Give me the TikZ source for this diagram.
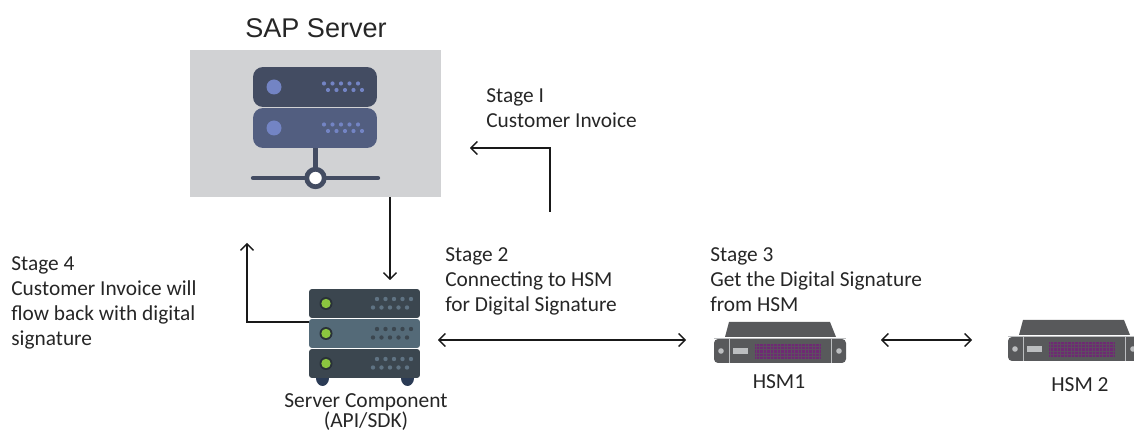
\documentclass[tikz,border=0pt]{standalone}
\usepackage{fontspec}
\usetikzlibrary{arrows.meta}
\setmainfont{Carlito}
\newfontfamily\headfont{Liberation Sans}
\definecolor{sapgrey}{HTML}{D1D2D4}
\definecolor{sapdark}{HTML}{434C62}
\definecolor{sapmid}{HTML}{525E80}
\definecolor{sapdot}{HTML}{7384C4}
\definecolor{rackdark}{HTML}{3B464F}
\definecolor{rackmid}{HTML}{546A78}
\definecolor{rackfoot}{HTML}{2B3B55}
\definecolor{rackled}{HTML}{8CC63F}
\definecolor{rackdot}{HTML}{5F7383}
\definecolor{hsmgrey}{HTML}{58595B}
\definecolor{hsmlight}{HTML}{BCBEC0}
\definecolor{hsmpurple}{HTML}{6E2A73}
\tikzset{
  x=0.02cm, y=-0.02cm,
  >={Straight Barb[length=3.6pt,width=7.4pt,line width=0.8pt]},
  label/.style={font=\fontsize{12.15pt}{14.2pt}\selectfont, align=left, anchor=north west, inner sep=0pt, text=black!85},
  caption/.style={font=\fontsize{12.2pt}{11.6pt}\selectfont, align=center, inner sep=0pt, text=black!85},
  link/.style={draw=black!90, line width=0.8pt, ->},
  sapunit/.style={rounded corners=0.2cm, minimum width=2.48cm, minimum height=0.8cm, inner sep=0pt, draw=none},
  rackrow/.style={rounded corners=0.06cm, minimum width=2.22cm, minimum height=0.58cm, inner sep=0pt},
  pics/hsmunit/.style={code={
    \fill[hsmgrey] (11,-2) -- (15,-17) -- (116,-17) -- (122,-2) -- cycle;
    \fill[hsmgrey, rounded corners=0.08cm] (0,0) rectangle (132,24);
    \draw[hsmlight, line width=0.5pt] (0,-1) -- (132,-1) (15,0) -- (15,24) (117,0) -- (117,24);
    \fill[hsmlight] (7,12) circle (2.8) (125,12) circle (2.8);
    \fill[hsmlight] (19,9.5) rectangle (34,15.5);
    \fill[hsmpurple] (41,5) rectangle (107,20);
    \draw[hsmgrey!70!hsmpurple, line width=0.15pt, step=0.07cm] (41,5) grid (107,20);
  }}
}
\begin{document}
\begin{tikzpicture}
  \useasboundingbox (0,0) rectangle (1134,432);
  \clip (0,0) rectangle (1134,432);

  % SAP server
  \node[anchor=center, font=\headfont\fontsize{15.4pt}{18pt}\selectfont, text=black!85] (saptitle) at (316,28) {SAP Server};
  \node[fill=sapgrey, minimum width=5.02cm, minimum height=2.94cm, inner sep=0pt] (sapbox) at (315.5,123.5) {};
  \node[sapunit, fill=sapdark] (sapone) at (315,87) {};
  \node[sapunit, fill=sapmid] (saptwo) at (315,128) {};
  \foreach \rowy in {87,128} {
    \fill[sapdot] (274,\rowy) circle (7.5);
    \foreach \i in {0,...,4} {
      \fill[sapdot] (324+8.5*\i,\rowy-3.5) circle (2.1);
      \fill[sapdot] (328+8.5*\i,\rowy+3) circle (2.1);
    }
  }
  \coordinate (netleft) at (253,178);
  \coordinate (netright) at (378,178);
  \draw[sapdark, line width=2.4pt, line cap=round] (netleft) -- (netright);
  \draw[sapdark, line width=2.4pt] (saptwo.south -| 315.5,0) -- (315.5,178);
  \node[circle, draw=sapdark, line width=2.7pt, fill=white, minimum size=0.35cm, inner sep=0pt] (saphub) at (315.5,178) {};

  % Server component
  \fill[rackfoot] (329,378) arc (0:180:6.5 and 8) -- cycle;
  \fill[rackfoot] (414,378) arc (0:180:6.5 and 8) -- cycle;
  \node[rackrow, fill=rackdark] (rowtop) at (364.5,303.5) {};
  \node[rackrow, fill=rackmid] (rowmid) at (364.5,333.5) {};
  \node[rackrow, fill=rackdark] (rowlow) at (364.5,363.5) {};
  \foreach \rowy/\dotcol in {303.5/rackdot,333.5/rackdark,363.5/rackdot} {
    \fill[rackdark!70!black] (326,\rowy) circle (6.5);
    \fill[rackled] (326,\rowy) circle (4.7);
    \foreach \i in {0,...,4} {
      \fill[\dotcol] (377+8.5*\i,\rowy-4.5) circle (2.2);
      \fill[\dotcol] (373+8.5*\i,\rowy+4) circle (2.2);
    }
  }
  \node[caption, anchor=north] (rackname) at (366,393) {Server Component\\(API/SDK)};

  % HSMs
  \pic at (714,339) {hsmunit};
  \pic at (1008,337) {hsmunit};
  \node[caption] (hsmone) at (779,382) {HSM1};
  \node[caption] (hsmtwo) at (1080,385) {HSM 2};

  % Stage texts
  \node[label] (stageone) at (486,88) {Stage I\\Customer Invoice};
  \node[label] (stagetwo) at (445,247) {Stage 2\\Connecting to HSM\\for Digital Signature};
  \node[label] (stagethree) at (710,247) {Stage 3\\Get the Digital Signature\\from HSM};
  \node[label] (stagefour) at (11,256) {Stage 4\\Customer Invoice will\\flow back with digital\\signature};

  % Arrows
  \coordinate (sapout) at (390,197);
  \coordinate (rackin) at (390,280);
  \coordinate (backstart) at (550,212);
  \coordinate (backcorner) at (550,148);
  \coordinate (backend) at (470,148);
  \coordinate (flowcorner) at (247,322);
  \coordinate (flowend) at (247,243);
  \coordinate (linkleft) at (438,340);
  \coordinate (linkright) at (686,340);
  \coordinate (pairleft) at (881,340);
  \coordinate (pairright) at (972,340);
  \draw[link] (sapout) -- (rackin);
  \draw[link] (backstart) -- (backcorner) -- (backend);
  \draw[link] (rowmid.west |- flowcorner) -- (flowcorner) -- (flowend);
  \draw[link, <->] (linkleft) -- (linkright);
  \draw[link, <->] (pairleft) -- (pairright);
\end{tikzpicture}
\end{document}
